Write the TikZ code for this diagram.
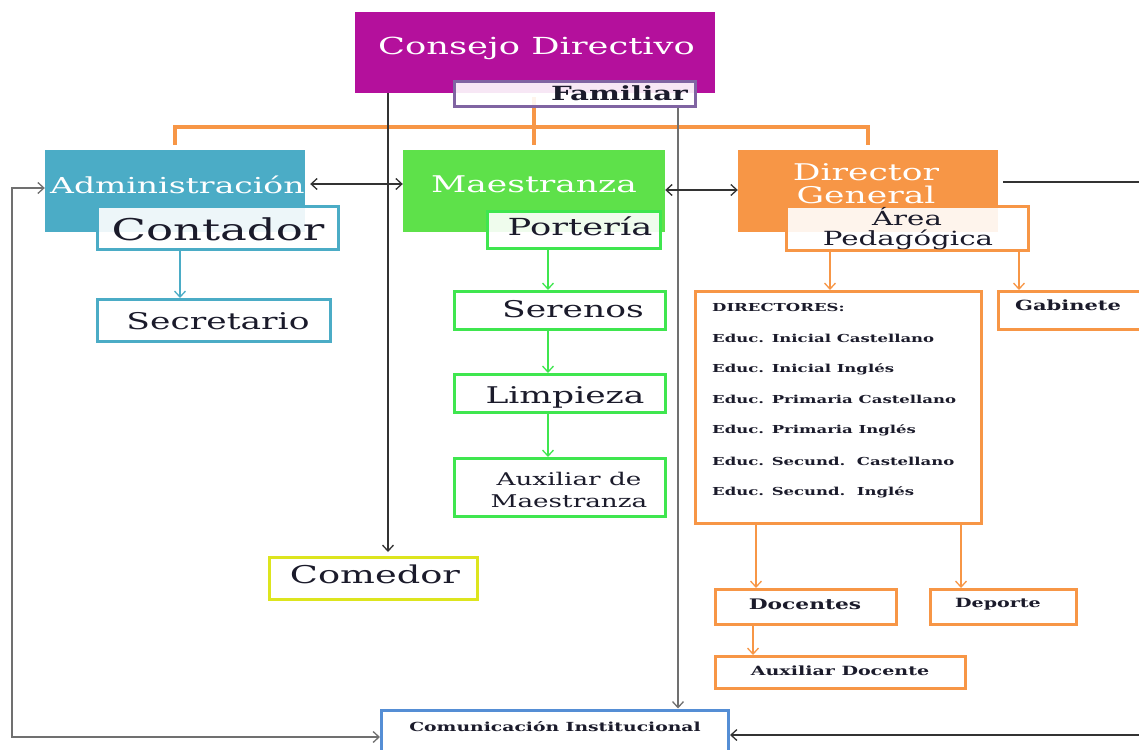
\documentclass[tikz,border=0pt]{standalone}
\usepackage{fontspec}
\setmainfont{DejaVu Serif}[FakeStretch=1.5]
\usetikzlibrary{arrows.meta}
\definecolor{cmag}{HTML}{B4109C}
\definecolor{cpur}{HTML}{8064A2}
\definecolor{cteal}{HTML}{4BACC6}
\definecolor{cgreenf}{HTML}{5EE14A}
\definecolor{cgreen}{HTML}{3FE64F}
\definecolor{corange}{HTML}{F79646}
\definecolor{cyell}{HTML}{DDE51E}
\definecolor{cblue}{HTML}{558ED5}
\definecolor{cink}{HTML}{1B1B2B}
\definecolor{cline}{HTML}{333333}
\definecolor{cgray}{HTML}{707070}
\newcommand{\fs}[1]{\fontsize{#1}{#1}\selectfont}
\begin{document}
\begin{tikzpicture}[x=1pt,y=-1pt,
  head/.style={fill=#1, draw=none, inner sep=0pt},
  frame/.style={draw=#1, line width=3pt, fill=white, inner sep=0pt},
  overlay/.style={draw=#1, line width=3pt, fill=white, fill opacity=0.9, text opacity=1, inner sep=0pt},
  txt/.style={inner sep=0pt, anchor=base, text=cink},
  wtxt/.style={inner sep=0pt, anchor=base, text=white},
  ltxt/.style={inner sep=0pt, anchor=base west, text=cink, font=\bfseries\fs{11}},
  tip/.style={-{Straight Barb[length=6pt,width=11pt,line width=1.3pt]}},
  dtip/.style={{Straight Barb[length=6pt,width=11pt,line width=1.3pt]}-{Straight Barb[length=6pt,width=11pt,line width=1.3pt]}},
  blk/.style={draw=cline, line width=1.6pt},
  bus/.style={draw=corange, line width=4pt},
  col/.style={draw=#1, line width=1.5pt, -{Straight Barb[length=6pt,width=11pt,line width=1.3pt]}}
]
\useasboundingbox (0,0) rectangle (1139,749);
\fill[white] (0,0) rectangle (1139,749);

% column / level coordinates
\coordinate (bus) at (0,127);
\coordinate (xc) at (388,0);
\coordinate (xf) at (678,0);
\coordinate (xt) at (180,0);
\coordinate (xg) at (548,0);
\coordinate (xo1) at (830,0);
\coordinate (xo2) at (1019,0);
\coordinate (xo3) at (756,0);
\coordinate (xo4) at (961,0);
\coordinate (xo5) at (753,0);
\coordinate (ya) at (0,184);
\coordinate (yb) at (0,190);
\coordinate (yl) at (0,188);
\coordinate (yr) at (0,182);
\coordinate (yc) at (0,735);
\coordinate (ycl) at (0,737);
\coordinate (yst) at (0,97);
\coordinate (farR) at (1165,0);
\coordinate (farL) at (12,0);

% header boxes
\node[head=cmag, minimum width=360pt, minimum height=81pt] (cons) at (535,52.5) {};
\node[head=cteal, minimum width=260pt, minimum height=82pt] (adm) at (175,191) {};
\node[head=cgreenf, minimum width=262pt, minimum height=82pt] (maes) at (534,191) {};
\node[head=corange, minimum width=260pt, minimum height=82pt] (dg) at (868,191) {};

% orange bus
\draw[bus] ([yshift=5pt]adm.north) |- (dg.north |- bus) -- ([yshift=5pt]dg.north);
\draw[bus] ([yshift=5pt]maes.north) -- (maes.north |- yst);

% header texts
\node[wtxt, font=\fs{23.5}] (tcons) at (536.5,55) {Consejo Directivo};
\node[wtxt, font=\fs{22}, anchor=base west] (tadm) at (50,193) {Administración};
\node[wtxt, font=\fs{23}] (tmaes) at (534,192) {Maestranza};
\node[wtxt, font=\fs{23}] (tdg1) at (866,180) {Director};
\node[wtxt, font=\fs{23}] (tdg2) at (866,203) {General};

% overlay boxes
\node[overlay=cpur, minimum width=241pt, minimum height=25pt] (fam) at (575,94) {};
\node[txt, font=\bfseries\fs{19.5}, anchor=base east] (tfam) at (688,101) {Familiar};
\node[overlay=cteal, minimum width=241pt, minimum height=43pt] (cont) at (218,228) {};
\node[txt, font=\fs{30}] (tcont) at (218,240) {Contador};
\node[overlay=cgreen, minimum width=173pt, minimum height=37pt] (port) at (574,230) {};
\node[txt, font=\fs{23.5}] (tport) at (580,235) {Portería};
\node[overlay=corange, minimum width=242pt, minimum height=44pt] (ap) at (907.5,228.5) {};
\node[txt, font=\fs{19.5}] (tap1) at (907,225) {Área};
\node[txt, font=\fs{19.5}] (tap2) at (908,245) {Pedagógica};

% other boxes
\node[frame=cteal, minimum width=233pt, minimum height=42pt] (sec) at (214,320.5) {};
\node[txt, font=\fs{23}] (tsec) at (218,329) {Secretario};
\node[frame=cgreen, minimum width=211pt, minimum height=38pt] (ser) at (560,310.5) {};
\node[txt, font=\fs{23}] (tser) at (573,317) {Serenos};
\node[frame=cgreen, minimum width=211pt, minimum height=38pt] (lim) at (560,393.5) {};
\node[txt, font=\fs{23}] (tlim) at (565,403) {Limpieza};
\node[frame=cgreen, minimum width=211pt, minimum height=58pt] (auxm) at (560,487.5) {};
\node[txt, font=\fs{17.5}] (tauxm1) at (569,485) {Auxiliar de};
\node[txt, font=\fs{17.5}] (tauxm2) at (569,507) {Maestranza};
\node[frame=cyell, minimum width=208pt, minimum height=42pt] (com) at (373.5,578.5) {};
\node[txt, font=\fs{24.5}] (tcom) at (375,583) {Comedor};
\node[frame=corange, minimum width=286pt, minimum height=232pt] (dir) at (838.5,407.5) {};
\node[ltxt] (d0) at (712,311) {DIRECTORES:};
\node[ltxt] (d1) at (712,342) {Educ. Inicial Castellano};
\node[ltxt] (d2) at (712,372) {Educ. Inicial Inglés};
\node[ltxt] (d3) at (712,403) {Educ. Primaria Castellano};
\node[ltxt] (d4) at (712,433) {Educ. Primaria Inglés};
\node[ltxt] (d5) at (712,465) {Educ. Secund.\ \ Castellano};
\node[ltxt] (d6) at (712,495) {Educ. Secund.\ \ Inglés};
\node[frame=corange, minimum width=150pt, minimum height=38pt] (gab) at (1073.5,310.5) {};
\node[txt, font=\bfseries\fs{14}] (tgab) at (1068,310) {Gabinete};
\node[frame=corange, minimum width=181pt, minimum height=35pt] (doc) at (806,607) {};
\node[txt, font=\bfseries\fs{14.5}] (tdoc) at (805,609) {Docentes};
\node[frame=corange, minimum width=146pt, minimum height=35pt] (dep) at (1003.5,607) {};
\node[txt, font=\bfseries\fs{12.7}] (tdep) at (998,607) {Deporte};
\node[frame=corange, minimum width=250pt, minimum height=32pt] (auxd) at (840.5,672.5) {};
\node[txt, font=\bfseries\fs{12.7}] (tauxd) at (840,675) {Auxiliar Docente};
\node[frame=cblue, minimum width=347pt, minimum height=60pt] (comi) at (555,740) {};
\node[txt, font=\bfseries\fs{12.5}] (tcomi) at (555,731) {Comunicación Institucional};

% long vertical connectors
\draw[blk, tip] (cons.south -| xc) -- ([yshift=4pt]com.north -| xc);
\draw[draw=cgray, line width=1.8pt, tip] (fam.south -| xf) -- (comi.north -| xf);

% coloured arrows
\draw[col=cteal] (cont.south -| xt) -- (sec.north -| xt);
\draw[col=cgreen] (port.south -| xg) -- (ser.north -| xg);
\draw[col=cgreen] (ser.south -| xg) -- (lim.north -| xg);
\draw[col=cgreen] (lim.south -| xg) -- (auxm.north -| xg);
\draw[col=corange] (ap.south -| xo1) -- (dir.north -| xo1);
\draw[col=corange] (ap.south -| xo2) -- (gab.north -| xo2);
\draw[col=corange] (dir.south -| xo3) -- (doc.north -| xo3);
\draw[col=corange] (dir.south -| xo4) -- (dep.north -| xo4);
\draw[col=corange] (doc.south -| xo5) -- (auxd.north -| xo5);

% black horizontal connectors
\draw[blk, dtip] ([xshift=5pt]adm.east |- ya) -- (maes.west |- ya);
\draw[blk, dtip] (maes.east |- yb) -- (dg.west |- yb);
\draw[blk] ([xshift=5pt]dg.east |- yr) -- (farR |- yr) -- (farR |- yc);
\draw[blk, tip] (farR |- yc) -- (comi.east |- yc);
\draw[draw=cgray, line width=1.8pt, dtip] (comi.west |- ycl) -- (farL |- ycl) -- (farL |- yl) -- (adm.west |- yl);
\end{tikzpicture}
\end{document}
